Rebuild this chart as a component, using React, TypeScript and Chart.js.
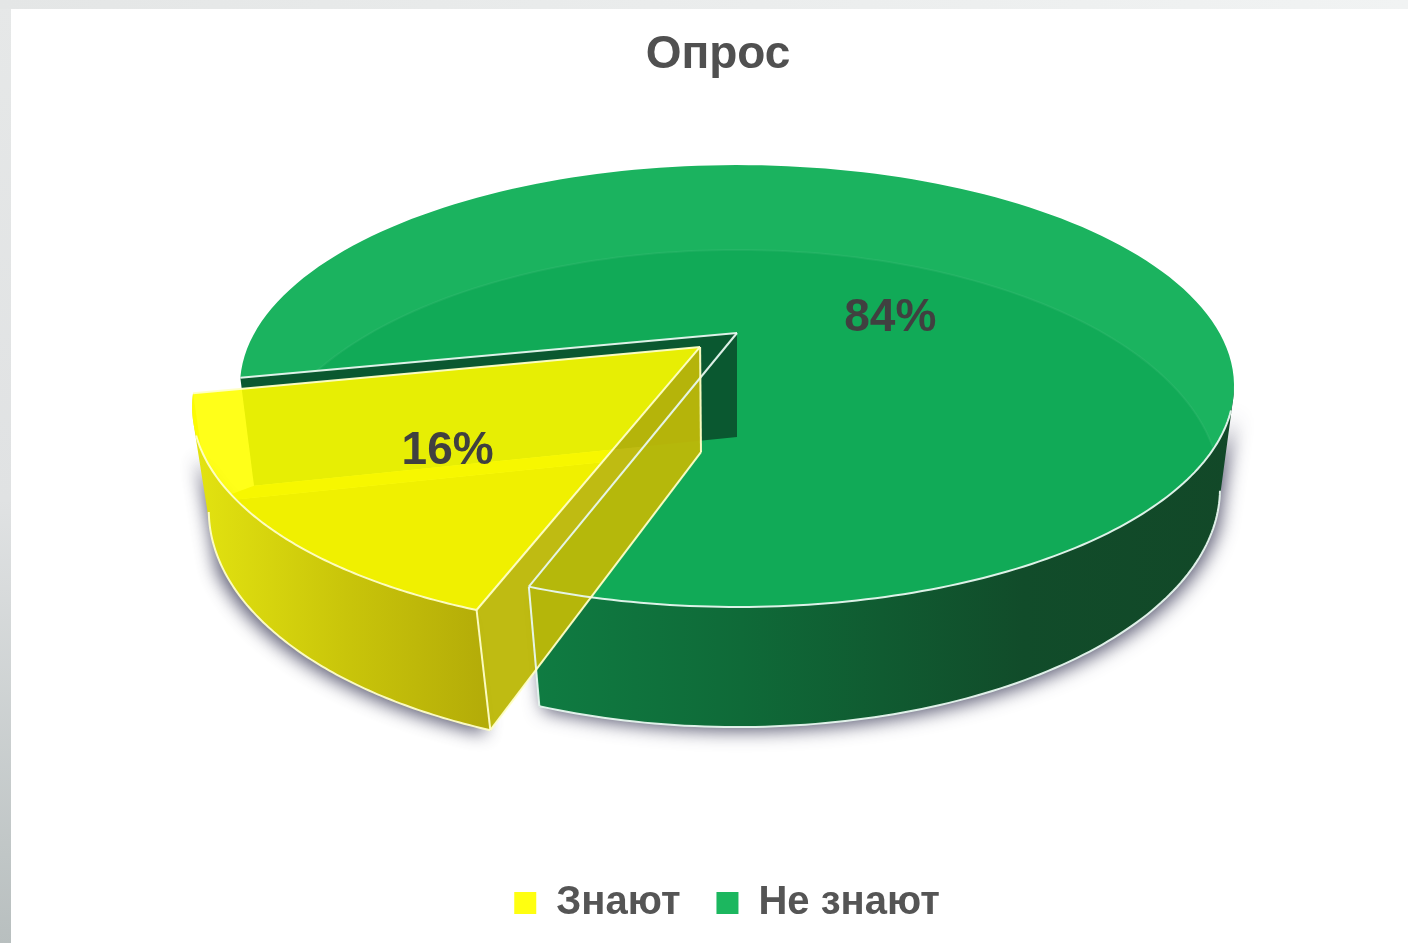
import React, { useEffect, useRef } from "react";
import { Chart, registerables } from "chart.js";

Chart.register(...registerables);

const categories = ["Знают", "Не знают"];
const shares = [16.3, 83.7];
const percentLabels = ["16%", "84%"];
const chartTitle = "Опрос";
const legendColors = ["#ffff10", "#1cb75f"];

// Style: how far each slice is pulled out, and where its label sits in the pie's plane
const explode = [0.1, 0];
const labelRadius = [0.62, 0.336];
const labelTurn = [-0.03, 0.454];
const labelNudgeY = 3;
const firstSliceRotation = 199.5;
const legendShiftX = 9;

const CX = 737;
const TOP = { y0: 333, a: 482.5, b: 208.2, k: -0.24 };
const BOTTOM = { y0: 437, a: 471.6, b: 227.4, k: -0.216 };
type Plane = typeof TOP;
const DEG = Math.PI / 180;

const project = (u: number, v: number, p: Plane): [number, number] => {
  const d = 1 + p.k * v;
  return [CX + (p.a * u) / d, p.y0 + (p.b * v) / d];
};

const slicePath = (c: CanvasRenderingContext2D, p: Plane, s: number, e: number, du: number, dv: number) => {
  c.beginPath();
  c.moveTo(...project(du, dv, p));
  const n = 160;
  for (let i = 0; i <= n; i++) {
    const t = s + ((e - s) * i) / n;
    c.lineTo(...project(du + Math.cos(t), dv + Math.sin(t), p));
  }
  c.closePath();
};

const discPath = (c: CanvasRenderingContext2D, p: Plane) => {
  c.beginPath();
  const n = 240;
  for (let i = 0; i < n; i++) {
    const t = (2 * Math.PI * i) / n;
    const pt = project(Math.cos(t), Math.sin(t), p);
    if (i === 0) c.moveTo(pt[0], pt[1]);
    else c.lineTo(pt[0], pt[1]);
  }
  c.closePath();
};

const wallPath = (c: CanvasRenderingContext2D, s: number, e: number, du: number, dv: number) => {
  c.beginPath();
  const n = 120;
  for (let i = 0; i < n; i++) {
    const t0 = s + ((e - s) * i) / n;
    const t1 = s + ((e - s) * (i + 1)) / n;
    const q = [
      project(du + Math.cos(t0), dv + Math.sin(t0), TOP),
      project(du + Math.cos(t1), dv + Math.sin(t1), TOP),
      project(du + Math.cos(t1), dv + Math.sin(t1), BOTTOM),
      project(du + Math.cos(t0), dv + Math.sin(t0), BOTTOM),
    ];
    let area = 0;
    for (let j = 0; j < 4; j++) {
      const a = q[j], b = q[(j + 1) % 4];
      area += a[0] * b[1] - b[0] * a[1];
    }
    const o = area > 0 ? q : [...q].reverse();
    c.moveTo(o[0][0], o[0][1]);
    c.lineTo(o[1][0], o[1][1]);
    c.lineTo(o[2][0], o[2][1]);
    c.lineTo(o[3][0], o[3][1]);
    c.closePath();
  }
};

const frontRanges = (s: number, e: number, lo: number, hi: number) => {
  const out: [number, number][] = [];
  for (let k = -1; k <= 2; k++) {
    const a = Math.max(s, lo + k * 2 * Math.PI);
    const b = Math.min(e, hi + k * 2 * Math.PI);
    if (b > a) out.push([a, b]);
  }
  return out;
};

const arcLine = (c: CanvasRenderingContext2D, p: Plane, s: number, e: number, du: number, dv: number) => {
  c.beginPath();
  const n = 100;
  for (let i = 0; i <= n; i++) {
    const t = s + ((e - s) * i) / n;
    const pt = project(du + Math.cos(t), dv + Math.sin(t), p);
    if (i === 0) c.moveTo(pt[0], pt[1]);
    else c.lineTo(pt[0], pt[1]);
  }
  c.stroke();
};

const seg = (c: CanvasRenderingContext2D, a: [number, number], b: [number, number]) => {
  c.beginPath();
  c.moveTo(a[0], a[1]);
  c.lineTo(b[0], b[1]);
  c.stroke();
};

const quad = (c: CanvasRenderingContext2D, pts: [number, number][]) => {
  c.beginPath();
  pts.forEach((p, i) => (i === 0 ? c.moveTo(p[0], p[1]) : c.lineTo(p[0], p[1])));
  c.closePath();
};

const wallShadow = (c: CanvasRenderingContext2D, s: number, e: number, du: number, dv: number, offsetX: number) => {
  c.save();
  c.shadowColor = "rgba(50,50,80,0.8)";
  c.shadowBlur = 18;
  c.shadowOffsetX = offsetX;
  c.shadowOffsetY = 4;
  wallPath(c, s, e, du, dv);
  c.fillStyle = "#808080";
  c.fill();
  c.restore();
};

const pie3d = {
  id: "pie3d",
  afterLayout(chart: any) {
    if (chart.legend) {
      chart.legend.left += legendShiftX;
      chart.legend.right += legendShiftX;
    }
  },
  beforeDatasetsDraw(chart: any) {
    const c: CanvasRenderingContext2D = chart.ctx;
    const arcs = chart.getDatasetMeta(0).data;
    const geo = arcs.map((arc: any, i: number) => {
      const s = arc.startAngle, e = arc.endAngle, m = (s + e) / 2;
      return { s, e, m, du: explode[i] * Math.cos(m), dv: explode[i] * Math.sin(m) };
    });
    const y = geo[0], g = geo[1];
    const edgeG = "rgba(232,248,240,0.95)";
    const edgeY = "rgba(255,255,200,0.95)";

    c.save();

    // --- green slice ---
    const gGrad = c.createLinearGradient(530, 0, 1235, 0);
    gGrad.addColorStop(0, "#0f7c42");
    gGrad.addColorStop(0.3, "#0f6a38");
    gGrad.addColorStop(0.7, "#114c2a");
    gGrad.addColorStop(1, "#124828");
    for (const [a, b] of frontRanges(g.s, g.e, 20 * DEG, 160 * DEG)) wallShadow(c, a, b, 0, 0, 4);
    for (const [a, b] of frontRanges(g.s, g.e, 14 * DEG, 160 * DEG)) {
      wallPath(c, a, b, 0, 0);
      c.fillStyle = gGrad;
      c.fill();
    }
    slicePath(c, TOP, g.s, g.e, 0, 0);
    c.fillStyle = "#1bb35f";
    c.fill();
    c.save();
    slicePath(c, TOP, g.s, g.e, 0, 0);
    c.clip();
    discPath(c, BOTTOM);
    c.fillStyle = "#11aa57";
    c.fill();
    c.strokeStyle = "rgba(255,255,255,0.05)";
    c.lineWidth = 2;
    c.stroke();
    c.restore();

    // back wall of the gap
    const apexT = project(0, 0, TOP);
    const apexB = project(0, 0, BOTTOM);
    const gsB = project(Math.cos(g.s), Math.sin(g.s), BOTTOM);
    quad(c, [apexT, project(Math.cos(g.s), Math.sin(g.s), TOP), gsB, apexB]);
    c.fillStyle = "#0a5830";
    c.fill();

    // --- yellow slice ---
    const yGrad = c.createLinearGradient(200, 0, 490, 0);
    yGrad.addColorStop(0, "#e2e210");
    yGrad.addColorStop(0.5, "#c9c50a");
    yGrad.addColorStop(1, "#b3ab08");
    for (const [a, b] of frontRanges(y.s, y.e, 4 * DEG, 154 * DEG)) wallShadow(c, a, b, y.du, y.dv, -5);
    for (const [a, b] of frontRanges(y.s, y.e, 4 * DEG, 176 * DEG)) {
      wallPath(c, a, b, y.du, y.dv);
      c.fillStyle = yGrad;
      c.fill();
    }
    const yApexT = project(y.du, y.dv, TOP);
    const yApexB = project(y.du, y.dv, BOTTOM);
    const yAT = project(y.du + Math.cos(y.s), y.dv + Math.sin(y.s), TOP);
    const yAB = project(y.du + Math.cos(y.s), y.dv + Math.sin(y.s), BOTTOM);
    const yET = project(y.du + Math.cos(y.e), y.dv + Math.sin(y.e), TOP);
    const yEB = project(y.du + Math.cos(y.e), y.dv + Math.sin(y.e), BOTTOM);
    quad(c, [yApexT, yAT, yAB, yApexB]);
    c.fillStyle = "rgba(188,184,8,0.96)";
    c.fill();

    // lines of the green slice that show over the yellow side
    c.lineWidth = 2;
    c.strokeStyle = edgeG;
    const gs = project(Math.cos(g.s), Math.sin(g.s), TOP);
    const ge = project(Math.cos(g.e), Math.sin(g.e), TOP);
    const geB = project(Math.cos(g.e), Math.sin(g.e), BOTTOM);
    seg(c, apexT, gs);
    seg(c, apexT, ge);
    seg(c, ge, geB);
    for (const [a, b] of frontRanges(g.s, g.e, 20 * DEG, 160 * DEG)) arcLine(c, TOP, a, b, 0, 0);
    for (const [a, b] of frontRanges(g.s, g.e, 13 * DEG, 160 * DEG)) arcLine(c, BOTTOM, a, b, 0, 0);

    // yellow top: see-through over its own floor and the green wall
    c.save();
    slicePath(c, TOP, y.s, y.e, y.du, y.dv);
    c.clip();
    slicePath(c, BOTTOM, y.s, y.e, y.du, y.dv);
    c.fillStyle = "#696900";
    c.fill();
    quad(c, [gsB, apexB, yApexB, yEB]);
    c.fillStyle = "#b0b000";
    c.fill();
    c.restore();
    slicePath(c, TOP, y.s, y.e, y.du, y.dv);
    c.fillStyle = "rgba(255,255,0,0.9)";
    c.fill();

    c.lineWidth = 2;
    c.strokeStyle = edgeY;
    seg(c, yApexT, yAT);
    seg(c, yApexT, yET);
    seg(c, yAT, yAB);
    seg(c, yAB, yApexB);
    seg(c, yApexT, yApexB);
    for (const [a, b] of frontRanges(y.s, y.e, 4 * DEG, 158 * DEG)) arcLine(c, TOP, a, b, y.du, y.dv);
    for (const [a, b] of frontRanges(y.s, y.e, 4 * DEG, 166 * DEG)) arcLine(c, BOTTOM, a, b, y.du, y.dv);

    // labels
    c.font = "bold 46px 'Liberation Sans'";
    c.fillStyle = "#404040";
    c.textAlign = "center";
    c.textBaseline = "middle";
    geo.forEach((sl: any, i: number) => {
      const t = sl.m + labelTurn[i];
      const pt = project(sl.du + labelRadius[i] * Math.cos(t), sl.dv + labelRadius[i] * Math.sin(t), TOP);
      c.fillText(percentLabels[i], pt[0], pt[1] + labelNudgeY);
    });
    c.restore();
    return false;
  },
};

export default function App() {
  const ref = useRef<HTMLCanvasElement>(null);
  useEffect(() => {
    const chart = new Chart(ref.current!, {
      type: "pie",
      data: {
        labels: categories,
        datasets: [{ data: shares, backgroundColor: legendColors, borderWidth: 0 }],
      },
      plugins: [pie3d],
      options: {
        animation: false,
        responsive: false,
        rotation: firstSliceRotation,
        layout: { padding: { top: 28, left: 28, bottom: 10 } },
        plugins: {
          tooltip: { enabled: false },
          title: {
            display: true,
            text: chartTitle,
            color: "#505050",
            font: { family: "'Liberation Sans'", size: 46, weight: "bold" },
            padding: 0,
          },
          legend: {
            position: "bottom",
            labels: {
              boxWidth: 22,
              boxHeight: 22,
              padding: 36,
              color: "#555555",
              font: { family: "'Liberation Sans'", size: 40, weight: "bold" },
            },
          },
        },
      },
    } as any);
    return () => chart.destroy();
  }, []);
  return (
    <div
      style={{
        position: "relative",
        width: 1408,
        height: 943,
        overflow: "hidden",
        background: "linear-gradient(180deg,#e6e8e8 0%,#e0e2e3 53%,#b8bfbf 100%)",
      }}
    >
      <style>{"html,body{margin:0;padding:0;overflow:hidden}"}</style>
      <div style={{ position: "absolute", left: 0, top: 0, width: 1408, height: 9, background: "linear-gradient(90deg,#e4e6e6,#f1f3f3)" }} />
      <div style={{ position: "absolute", left: 11, top: 9, right: 0, bottom: 0, background: "#ffffff" }} />
      <canvas ref={ref} width={1408} height={943} style={{ position: "absolute", left: 0, top: 0, display: "block" }} />
    </div>
  );
}
